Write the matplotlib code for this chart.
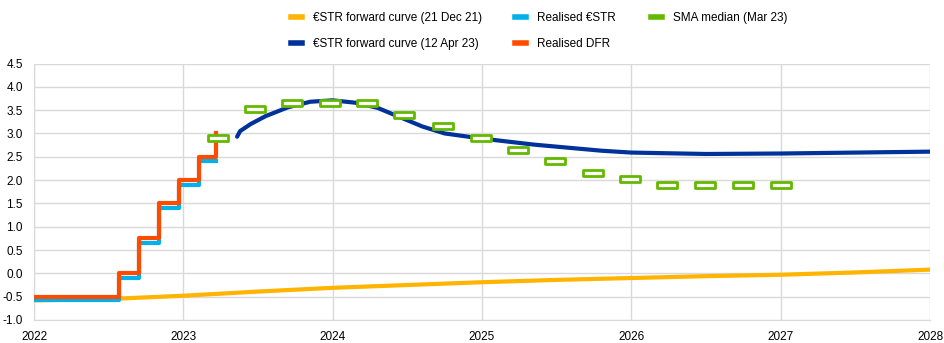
import matplotlib.pyplot as plt
from matplotlib.lines import Line2D
from matplotlib.path import Path

plt.rcParams['font.family'] = ['Liberation Sans', 'DejaVu Sans']
plt.rcParams['font.size'] = 8.5

# decimal years on the x axis
dfr_x = [2022.0, 2022.567, 2022.704, 2022.838, 2022.973, 2023.107, 2023.222]
dfr_y = [-0.50, 0.00, 0.75, 1.50, 2.00, 2.50, 3.00]

estr_x = [2022.0, 2022.567, 2022.704, 2022.838, 2022.973, 2023.107, 2023.222]
estr_y = [-0.58, -0.09, 0.66, 1.40, 1.90, 2.40, 2.40]

fwd21_x = [2022.0, 2022.5, 2023.0, 2023.5, 2024.0, 2024.5, 2025.0, 2025.5,
           2026.0, 2026.5, 2027.0, 2027.5, 2028.0]
fwd21_y = [-0.58, -0.55, -0.48, -0.39, -0.31, -0.25, -0.19, -0.14,
           -0.10, -0.06, -0.03, 0.02, 0.08]

fwd23_x = [2023.36, 2023.38, 2023.45, 2023.55, 2023.7, 2023.85, 2024.0, 2024.15,
           2024.3, 2024.45, 2024.6, 2024.75, 2025.0, 2025.35, 2025.8, 2026.0,
           2026.5, 2027.0, 2027.5, 2028.0]
fwd23_y = [2.93, 3.05, 3.20, 3.37, 3.56, 3.68, 3.71, 3.66,
           3.55, 3.35, 3.15, 3.00, 2.89, 2.76, 2.63, 2.59,
           2.56, 2.57, 2.59, 2.61]

sma_x = [2023.23, 2023.48, 2023.73, 2023.98, 2024.23, 2024.48, 2024.74, 2024.99,
         2025.24, 2025.49, 2025.74, 2025.99, 2026.24, 2026.49, 2026.75, 2027.0]
sma_y = [2.90, 3.53, 3.65, 3.65, 3.65, 3.40, 3.15, 2.90,
         2.65, 2.40, 2.15, 2.03, 1.90, 1.90, 1.90, 1.90]

c_fwd21 = '#FFB400'
c_fwd23 = '#003299'
c_estr = '#00B1EA'
c_dfr = '#FF4B00'
c_sma = '#65B800'

W, H = 945, 343
fig = plt.figure(figsize=(W / 100, H / 100), dpi=100)
ax = fig.add_axes([34 / W, 1 - 320 / H, 896 / W, 256.5 / H])

ax.plot(fwd21_x, fwd21_y, color=c_fwd21, lw=3, zorder=2)
ax.plot(estr_x, estr_y, color=c_estr, lw=3, drawstyle='steps-post', zorder=3)
ax.plot(dfr_x, dfr_y, color=c_dfr, lw=3, drawstyle='steps-post', zorder=4)
ax.plot(fwd23_x, fwd23_y, color=c_fwd23, lw=3, zorder=5, solid_capstyle='round')

rect = Path([(-1, -0.3), (1, -0.3), (1, 0.3), (-1, 0.3), (-1, -0.3)],
            [Path.MOVETO, Path.LINETO, Path.LINETO, Path.LINETO, Path.CLOSEPOLY])
ax.plot(sma_x, sma_y, ls='none', marker=rect, markersize=14,
        markerfacecolor='white', markeredgecolor=c_sma, markeredgewidth=2.0, zorder=6)

ax.set_xlim(2022, 2028)
ax.set_ylim(-1.0, 4.5)
ax.set_xticks(range(2022, 2029))
ax.set_xticklabels([str(y) for y in range(2022, 2029)])
ax.set_yticks([-1.0 + 0.5 * i for i in range(12)])
ax.set_yticklabels(['%.1f' % (-1.0 + 0.5 * i) for i in range(12)])
ax.grid(True, color='#d9d9d9', lw=1)
ax.set_axisbelow(True)
ax.tick_params(length=0, pad=8, labelsize=8.5)
for s in ['top', 'right']:
    ax.spines[s].set_visible(False)
for s in ['left', 'bottom']:
    ax.spines[s].set_color('#d9d9d9')


def col_legend(handles, labels, x_px):
    leg = fig.legend(handles, labels, loc='upper left',
                     bbox_to_anchor=(x_px / W, 1 - 12 / H), frameon=False,
                     borderpad=0, borderaxespad=0, handlelength=0.95,
                     handletextpad=0.9, labelspacing=1.2, fontsize=8.5)
    return leg


col_legend([Line2D([], [], color=c_fwd21, lw=4), Line2D([], [], color=c_fwd23, lw=4)],
           ['€STR forward curve (21 Dec 21)', '€STR forward curve (12 Apr 23)'], 291)
col_legend([Line2D([], [], color=c_estr, lw=4), Line2D([], [], color=c_dfr, lw=4)],
           ['Realised €STR', 'Realised DFR'], 515)
col_legend([Line2D([], [], color=c_sma, lw=4)], ['SMA median (Mar 23)'], 651)

fig.savefig('out.png', dpi=100)
